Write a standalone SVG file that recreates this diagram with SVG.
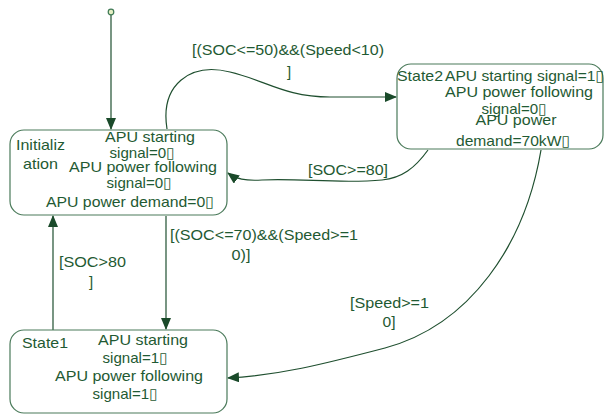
<svg xmlns="http://www.w3.org/2000/svg" width="605" height="415" viewBox="0 0 605 415">
<style>
.box{fill:#ffffff;stroke:#4a7a5a;stroke-width:1.2}
.t{font-family:"Liberation Sans",Arial,"DejaVu Sans",sans-serif;font-size:15px;fill:#1f5a33}
.m{text-anchor:middle}
.c{fill:none;stroke:#1f4f2f;stroke-width:1.2}
</style>
<defs>
<marker id="ah" viewBox="0 0 12 10" refX="11" refY="5" markerWidth="12" markerHeight="10" markerUnits="userSpaceOnUse" orient="auto">
<path d="M0,0 L12,5 L0,10 Z" fill="#1a4a2a"/>
</marker>
</defs>
<rect width="605" height="415" fill="#ffffff"/>
<g id="connectors">
<line class="c" x1="111" y1="15" x2="111" y2="129" marker-end="url(#ah)"/>
<path class="c" d="M167,129 C160,85 190,62 230,72 C265,80 285,97 330,97 L396,97" marker-end="url(#ah)"/>
<path class="c" d="M428,150 C415,168 402,178 382,180 C340,184 300,178 262,180 C245,181 236,179 228,173" marker-end="url(#ah)"/>
<line class="c" x1="166" y1="216" x2="166" y2="329" marker-end="url(#ah)"/>
<line class="c" x1="53" y1="330" x2="53" y2="216" marker-end="url(#ah)"/>
<path class="c" d="M541,150 C525,245 470,325 385,348 C320,365 280,375 228,378" marker-end="url(#ah)"/>
<text class="t" x="192" y="55" textLength="192" lengthAdjust="spacingAndGlyphs">[(SOC&lt;=50)&amp;&amp;(Speed&lt;10)</text>
<text class="t m" x="289" y="77">]</text>
<text class="t" x="308" y="175" textLength="80" lengthAdjust="spacingAndGlyphs">[SOC&gt;=80]</text>
<text class="t" x="170" y="240" textLength="188" lengthAdjust="spacingAndGlyphs">[(SOC&lt;=70)&amp;&amp;(Speed&gt;=1</text>
<text class="t m" x="241" y="260" textLength="19" lengthAdjust="spacingAndGlyphs">0)]</text>
<text class="t" x="59" y="267" textLength="67" lengthAdjust="spacingAndGlyphs">[SOC&gt;80</text>
<text class="t m" x="91" y="287">]</text>
<text class="t" x="350" y="308" textLength="79" lengthAdjust="spacingAndGlyphs">[Speed&gt;=1</text>
<text class="t m" x="389" y="327" textLength="13" lengthAdjust="spacingAndGlyphs">0]</text>
</g>
<g id="initial">
<circle cx="111" cy="12" r="2.8" fill="#e6efc4" stroke="#3f7a55" stroke-width="1.2"/>
</g>
<g id="initialization">
<rect class="box" x="10" y="130" width="217" height="85" rx="14"/>
<text class="t" x="16" y="150" textLength="49" lengthAdjust="spacingAndGlyphs">Initializ</text>
<text class="t" x="23" y="169" textLength="35" lengthAdjust="spacingAndGlyphs">ation</text>
<text class="t m" x="150" y="142" textLength="90" lengthAdjust="spacingAndGlyphs">APU starting</text>
<text class="t m" x="142" y="158" textLength="65" lengthAdjust="spacingAndGlyphs">signal=0▯</text>
<text class="t m" x="143" y="172" textLength="148" lengthAdjust="spacingAndGlyphs">APU power following</text>
<text class="t m" x="139" y="188" textLength="65" lengthAdjust="spacingAndGlyphs">signal=0▯</text>
<text class="t m" x="130" y="207" textLength="168" lengthAdjust="spacingAndGlyphs">APU power demand=0▯</text>
</g>
<g id="state2">
<rect class="box" x="397" y="64" width="206" height="85" rx="14"/>
<text class="t" x="397" y="81" textLength="46" lengthAdjust="spacingAndGlyphs">State2</text>
<text class="t" x="445" y="81" textLength="159" lengthAdjust="spacingAndGlyphs">APU starting signal=1▯</text>
<text class="t m" x="519" y="97" textLength="148" lengthAdjust="spacingAndGlyphs">APU power following</text>
<text class="t m" x="514" y="114" textLength="65" lengthAdjust="spacingAndGlyphs">signal=0▯</text>
<text class="t m" x="516" y="125" textLength="81" lengthAdjust="spacingAndGlyphs">APU power</text>
<text class="t m" x="513" y="146" textLength="114" lengthAdjust="spacingAndGlyphs">demand=70kW▯</text>
</g>
<g id="state1">
<rect class="box" x="10" y="330" width="217" height="83" rx="14"/>
<text class="t" x="22" y="348" textLength="46" lengthAdjust="spacingAndGlyphs">State1</text>
<text class="t m" x="143" y="345" textLength="90" lengthAdjust="spacingAndGlyphs">APU starting</text>
<text class="t m" x="135" y="363" textLength="65" lengthAdjust="spacingAndGlyphs">signal=1▯</text>
<text class="t m" x="129" y="381" textLength="148" lengthAdjust="spacingAndGlyphs">APU power following</text>
<text class="t m" x="125" y="399" textLength="65" lengthAdjust="spacingAndGlyphs">signal=1▯</text>
</g>
</svg>
